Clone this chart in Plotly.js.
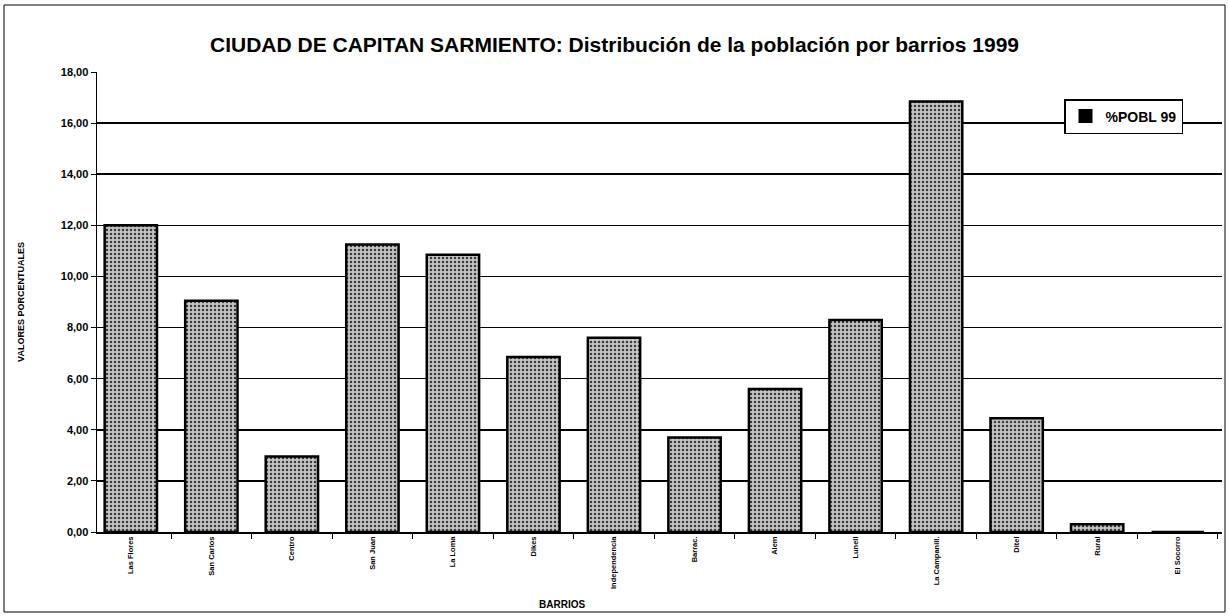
<!DOCTYPE html>
<html>
<head>
<meta charset="utf-8">
<script src="https://cdn.plot.ly/plotly-3.0.1.min.js"></script>
<style>html,body{margin:0;padding:0;background:#fff}#chart{width:1229px;height:616px}</style>
</head>
<body>
<div id="chart"></div>
<script>
const barrios = ["Las Flores","San Carlos","Centro","San Juan","La Loma","Dikes","Independencia","Barrac.","Alem","Lunell","La Campanill.","Ditel","Rural","El Socorro"];
const pobl99 = [12.0, 9.05, 2.95, 11.25, 10.85, 6.85, 7.6, 3.7, 5.6, 8.3, 16.85, 4.45, 0.3, 0];
const yTicks = [0,2,4,6,8,10,12,14,16,18];
const seriesName = '%POBL 99';

const trace = {
  type: 'bar',
  x: barrios,
  y: pobl99,
  name: seriesName,
  showlegend: false,
  width: 0.65,
  marker: {
    color: '#b0b0b0',
    line: {color: '#000', width: 2.5},
    pattern: {shape: '.', fgcolor: '#3a3a3a', bgcolor: '#c4c4c4', size: 4, solidity: 0.3}
  }
};
// legend-only entry with a solid black key, as in the reference
const legendKey = {
  type: 'bar',
  x: [barrios[0]],
  y: [null],
  name: seriesName,
  showlegend: true,
  marker: {color: '#000', line: {color: '#000', width: 1}}
};

const W = 1229, H = 616, L = 97, R = 7, T = 72, B = 84;
const pw = W - L - R, ph = H - T - B;
const px = v => (v - L) / pw;
const py = v => (H - B - v) / ph;

const layout = {
  width: W, height: H,
  margin: {l: L, r: R, t: T, b: B},
  paper_bgcolor: '#fff', plot_bgcolor: '#fff',
  font: {family: 'Arial, Liberation Sans, sans-serif', color: '#000'},
  separators: ',.',
  barmode: 'overlay',
  title: {text: '<b>CIUDAD DE CAPITAN SARMIENTO: Distribución de la población por barrios 1999</b>',
          font: {size: 21, family: 'Arial, Liberation Sans, sans-serif'}, x: 0.5, xanchor: 'center', y: 0.927, yanchor: 'middle'},
  xaxis: {
    type: 'category',
    tickangle: -90,
    tickfont: {size: 7.5, family: 'Arial, Liberation Sans, sans-serif', weight: 'bold'},
    ticks: 'outside', ticklen: 5, tickcolor: '#000',
    tickson: 'boundaries',
    showline: true, linecolor: '#000', linewidth: 1.5,
    showgrid: false,
    range: [-0.42, 13.55]
  },
  yaxis: {
    range: [0, 18],
    tickvals: yTicks,
    tickformat: '.2f',
    tickfont: {size: 11, weight: 'bold'},
    ticks: 'outside', ticklen: 5, tickcolor: '#000',
    showline: true, linecolor: '#000', linewidth: 1.5,
    showgrid: true, gridcolor: '#000', gridwidth: 1.5,
    zeroline: false,
    title: {text: '<b>VALORES PORCENTUALES</b>', font: {size: 9}, standoff: 34}
  },
  showlegend: true,
  legend: {
    x: px(1064), y: py(99), xanchor: 'left', yanchor: 'top',
    bgcolor: '#fff', bordercolor: '#000', borderwidth: 1.5,
    font: {size: 14, weight: 'bold'},
    itemwidth: 30, itemsizing: 'constant',
    tracegroupgap: 0
  },
  annotations: [{
    text: '<b>BARRIOS</b>', xref: 'paper', yref: 'paper',
    x: px(562), y: py(604), xanchor: 'center', yanchor: 'middle',
    showarrow: false, font: {size: 10}
  }],
  shapes: [{
    type: 'rect', xref: 'paper', yref: 'paper',
    x0: px(4), x1: px(1225), y0: py(612), y1: py(5),
    line: {color: '#000', width: 1}, layer: 'below'
  }]
};

Plotly.newPlot('chart', [trace, legendKey], layout, {displayModeBar: false, staticPlot: true});
</script>
</body>
</html>
